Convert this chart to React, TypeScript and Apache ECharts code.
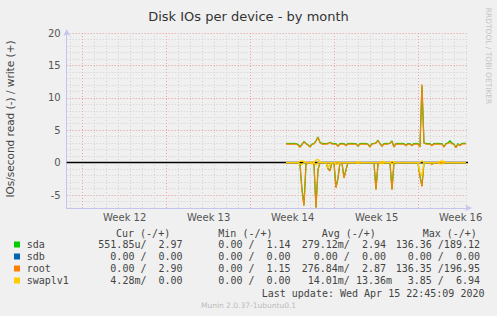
import React, { useEffect, useRef } from "react";
import * as echarts from "echarts";

const chartTitle = "Disk IOs per device - by month";
const yAxisTitle = "IOs/second read (-) / write (+)";
const sideText = "RRDTOOL / TOBI OETIKER";
const footerText = "Munin 2.0.37-1ubuntu0.1";
const lastUpdate = "Last update: Wed Apr 15 22:45:09 2020";

// x axis in days since the start of week 12
const weekStarts = [0, 7, 14, 21, 28];
const weekMids = [3.5, 10.5, 17.5, 24.5, 31.5];
const weekLabels = ["Week 12", "Week 13", "Week 14", "Week 15", "Week 16"];
const yTicks = [-5, 0, 5, 10, 15, 20];
const xMin = -1.333;
const xMax = 32.11;
const yMin = -7;
const yMax = 20;
const sampleStart = 16.94;
const sampleStep = 1 / 6;

const devices = ["sda", "sdb", "root", "swaplv1"];
const colors = ["#00cc00", "#0066b3", "#ff8000", "#ffcc00"];

// write (+)
const sdaWrite = [2.95,2.94,2.96,2.93,2.95,2.94,2.8,2.45,2.8,3.25,
 2.95,2.75,2.45,2.85,2.95,3.35,3.95,3.15,2.93,2.95,
 2.94,2.96,3.15,2.95,2.93,2.92,2.55,2.93,2.95,2.94,
 2.65,2.95,2.93,2.96,2.94,2.92,2.55,2.94,2.95,2.93,
 2.95,2.85,2.45,2.93,2.96,3.05,3.45,2.95,2.55,2.93,
 2.95,2.94,3.0,3.35,2.45,2.94,2.96,2.93,2.95,2.92,
 2.65,2.94,2.92,2.65,2.94,2.96,2.93,2.45,11.9,3.05,
 2.95,2.94,2.92,2.65,2.95,2.93,2.96,2.94,2.92,2.45,
 2.94,3.05,3.4,3.0,2.85,2.35,2.93,2.65,2.95,2.96,
 2.97];
const rootWrite = [2.88,2.86,2.87,2.85,2.88,2.86,2.7,2.35,2.75,3.2,
 2.9,2.7,2.4,2.8,2.9,3.3,3.9,3.1,2.85,2.87,
 2.86,2.9,3.1,2.88,2.85,2.84,2.5,2.85,2.88,2.86,
 2.6,2.87,2.85,2.88,2.86,2.84,2.5,2.86,2.88,2.85,
 2.87,2.8,2.4,2.85,2.9,3.0,3.4,2.9,2.5,2.85,
 2.87,2.86,2.95,3.3,2.4,2.86,2.88,2.85,2.87,2.84,
 2.6,2.86,2.84,2.6,2.86,2.88,2.85,2.4,12.1,3.0,
 2.88,2.86,2.84,2.6,2.87,2.85,2.88,2.86,2.84,2.4,
 2.86,2.95,3.1,2.9,2.8,2.3,2.85,2.6,2.87,2.88,
 2.9];
const sdbWrite = [0,0,0,0,0,0,0,0,0,0, 0,0,0,0,0,0,0,0,0,0, 0,0,0,0,0,0,0,0,0,0,
 0,0,0,0,0,0,0,0,0,0, 0,0,0,0,0,0,0,0,0,0, 0,0,0,0,0,0,0,0,0,0,
 0,0,0,0,0,0,0,0,0,0, 0,0,0,0,0,0,0,0,0,0, 0,0,0,0,0,0,0,0,0,0, 0];
const swapWrite = [0,0,0,0,0,0,0,0.2,0.25,0.2,
 0,0,0,0.15,0,0.4,0.5,0.2,0,0,
 0,0,0,0,0,0,0.1,0,0,0,
 0,0,0,0,0,0,0.15,0,0,0,
 0,0,0,0,0,0,0,0,0.2,0.15,
 0,0,0,0.2,0.1,0,0,0,0,0,
 0,0,0,0,0,0,0,0,0.3,0,
 0,0,0,0,0,0,0,0.2,0.25,0.2,
 0,0,0,0,0,0,0,0,0,0,
 0];

// read (-), stored as magnitudes
const sdaRead = [0,0,0,0,0,0,0,0.2,4.1,6.5,
 0.3,0,0,0,0.2,6.9,1.1,0,0,0,
 0,0.9,1.2,0,0,3.8,2.4,0,0,2.3,
 1.1,0,0,0,0,0,0,0,0,0,
 0,0,0,0,0,4.1,0.2,0,0,0,
 0,0,0,4.1,0,0,0,0,0,0,
 0,0,0,0,0,0,0,2.1,3.6,0,
 0,0,0,0.2,0,0,0,0,0,0,
 0,0,0,0,0,0,0,0,0,0,
 0];
const rootRead = [0,0,0,0,0,0,0,0.3,4.3,6.7,
 0.4,0,0,0,0.3,7.0,1.2,0,0,0,
 0,1.0,1.3,0,0,3.9,2.5,0,0,2.4,
 1.2,0,0,0,0,0,0,0,0,0,
 0,0,0,0,0,4.2,0.3,0,0,0,
 0,0,0,4.2,0,0,0,0,0,0,
 0,0,0,0,0,0,0,2.2,3.7,0,
 0,0,0,0.3,0,0,0,0,0,0,
 0,0,0,0,0,0,0,0,0,0,
 0];
const sdbRead = [0,0,0,0,0,0,0,0,0,0, 0,0,0,0,0,0,0,0,0,0, 0,0,0,0,0,0,0,0,0,0,
 0,0,0,0,0,0,0,0,0,0, 0,0,0,0,0,0,0,0,0,0, 0,0,0,0,0,0,0,0,0,0,
 0,0,0,0,0,0,0,0,0,0, 0,0,0,0,0,0,0,0,0,0, 0,0,0,0,0,0,0,0,0,0, 0];
const swapRead = [0,0,0,0,0,0,0,0.2,0.3,0,
 0,0,0,0.2,0,0.4,0,0,0,0,
 0,0.8,0.3,0,0,0.3,0.2,0,0,0,
 0,0,0,0,0,0,0.1,0,0,0,
 0,0,0,0,0,0,0,0,0.2,0,
 0,0,0,0.2,0,0,0,0,0,0,
 0,0,0,0,0,0,0,1.5,2.0,0,
 0,0,0,0,0,0,0,0.2,0.2,0,
 0,0,0,0,0,0,0,0,0,0,
 0];

const legendHeaders = ["Cur (-/+)", "Min (-/+)", "Avg (-/+)", "Max (-/+)"];
const legendCur = ["551.85u/  2.97", "  0.00 /  0.00", "  0.00 /  2.90", "  4.28m/  0.00"];
const legendMin = ["  0.00 /  1.14", "  0.00 /  0.00", "  0.00 /  1.15", "  0.00 /  0.00"];
const legendAvg = ["279.12m/  2.94", "  0.00 /  0.00", "276.84m/  2.87", " 14.01m/ 13.36m"];
const legendMax = ["136.36 /189.12", "  0.00 /  0.00", "136.35 /196.95", "  3.85 /  6.94"];

export default function App() {
  const ref = useRef<HTMLDivElement>(null);
  useEffect(() => {
    const chart = echarts.init(ref.current!, null, { renderer: "svg" });
    const times = sdaWrite.map((_, i) => sampleStart + i * sampleStep);
    const pts = (vals: number[], sign: number) => vals.map((v, i) => [times[i], sign * v]);
    const reads = [sdaRead, sdbRead, rootRead, swapRead];
    const writes = [sdaWrite, sdbWrite, rootWrite, swapWrite];
    const dayTicks: number[] = [];
    for (let d = -1; d <= 32; d++) dayTicks.push(d);

    const series: any[] = [];
    devices.forEach((name, k) => {
      [reads[k], writes[k]].forEach((vals, j) => {
        series.push({
          type: "line",
          name: name + (j === 0 ? " read" : " write"),
          xAxisIndex: 1,
          yAxisIndex: 1,
          data: pts(vals, j === 0 ? -1 : 1),
          showSymbol: false,
          symbol: "none",
          lineStyle: { color: colors[k], width: k === 2 ? 1.1 : 1.3 },
          z: 3 + k,
          silent: true,
        });
      });
    });
    series[series.length - 1].markLine = {
      silent: true,
      symbol: "none",
      label: { show: false },
      lineStyle: { color: "#000", width: 1.3, type: "solid" },
      data: [{ yAxis: 0 }],
    };

    const mono = "'DejaVu Sans Mono', monospace";
    const legendFill = "#444";
    const rowY = [244.5, 256.5, 268.5, 280.5];
    const graphic: any[] = [];
    const headerX = [116, 218.3, 321.7, 422.7];
    legendHeaders.forEach((h, i) => {
      graphic.push({ type: "text", x: headerX[i], y: 233, style: { text: h, font: "10px " + mono, fill: legendFill, textVerticalAlign: "middle" } });
    });
    const colX = [98.3, 206.3, 301.7, 395.7];
    const cols = [legendCur, legendMin, legendAvg, legendMax];
    devices.forEach((name, k) => {
      graphic.push({ type: "rect", shape: { x: 14, y: rowY[k] - 3, width: 6, height: 6 }, style: { fill: colors[k] } });
      graphic.push({ type: "text", x: 26.7, y: rowY[k], style: { text: name, font: "10px " + mono, fill: legendFill, textVerticalAlign: "middle" } });
      cols.forEach((c, ci) => {
        graphic.push({ type: "text", x: colX[ci], y: rowY[k], style: { text: c[k], font: "10px " + mono, fill: legendFill, textVerticalAlign: "middle" } });
      });
    });
    graphic.push({ type: "text", x: 261.7, y: 293, style: { text: lastUpdate, font: "10px " + mono, fill: legendFill, textVerticalAlign: "middle" } });
    graphic.push({ type: "text", x: 248.5, y: 305.5, style: { text: footerText, font: "7.5px 'DejaVu Sans'", fill: "#bbb", textAlign: "center", textVerticalAlign: "middle" } });
    graphic.push({ type: "text", x: 488, y: 56, rotation: -Math.PI / 2, style: { text: sideText, font: "7.5px 'DejaVu Sans'", fill: "#c4c4c4", textAlign: "center", textVerticalAlign: "middle" } });
    graphic.push({ type: "text", x: 10, y: 119, rotation: Math.PI / 2, style: { text: yAxisTitle, font: "10.5px 'DejaVu Sans'", fill: "#444", textAlign: "center", textVerticalAlign: "middle" } });

    const axisColor = "#c4c4f0";
    chart.setOption({
      animation: false,
      backgroundColor: "#f0f0f0",
      title: {
        text: chartTitle,
        left: "center",
        top: 5,
        textStyle: { fontSize: 13, fontWeight: "normal", color: "#333", fontFamily: "DejaVu Sans" },
      },
      grid: { left: 66.7, right: 29, top: 33, bottom: 108, containLabel: false },
      xAxis: [
        {
          type: "value", min: xMin, max: xMax, position: "bottom",
          axisLine: { show: false, onZero: false },
          axisTick: { show: false, customValues: dayTicks },
          axisLabel: { show: false },
          splitLine: { show: true, lineStyle: { color: "#d2d2d2", type: [1, 2], width: 1 } },
        },
        {
          type: "value", min: xMin, max: xMax, position: "bottom",
          axisLine: { show: true, onZero: false, lineStyle: { color: axisColor, width: 1 }, symbol: ["none", "arrow"], symbolSize: [5, 7], symbolOffset: [0, 4] },
          axisTick: { show: false, customValues: weekStarts },
          axisLabel: {
            customValues: weekMids,
            margin: 4,
            color: "#555",
            fontSize: 10,
            fontFamily: "DejaVu Sans",
            formatter: (v: number) => {
              const idx = weekMids.findIndex((m) => Math.abs(m - v) < 1e-6);
              return idx >= 0 ? weekLabels[idx] : "";
            },
          },
          splitLine: { show: true, lineStyle: { color: "#f2a0a0", type: [1, 2], width: 1 } },
        },
      ],
      yAxis: [
        {
          type: "value", min: yMin, max: yMax, interval: 1, position: "left",
          axisLine: { show: false, onZero: false },
          axisTick: { show: false },
          axisLabel: { show: false },
          splitLine: { show: true, lineStyle: { color: "#d2d2d2", type: [1, 2], width: 1 } },
        },
        {
          type: "value", min: yMin, max: yMax, position: "left",
          axisLine: { show: true, onZero: false, lineStyle: { color: axisColor, width: 1 }, symbol: ["none", "arrow"], symbolSize: [5, 7], symbolOffset: [0, 4] },
          axisTick: { show: false, customValues: yTicks },
          axisLabel: { customValues: yTicks, margin: 6, color: "#555", fontSize: 10, fontFamily: "DejaVu Sans" },
          splitLine: { show: true, lineStyle: { color: "#f2a0a0", type: [1, 2], width: 1 } },
        },
      ],
      series,
      graphic,
    });
    return () => chart.dispose();
  }, []);
  return <div ref={ref} style={{ position: "fixed", left: 0, top: 0, width: 497, height: 316 }} />;
}
